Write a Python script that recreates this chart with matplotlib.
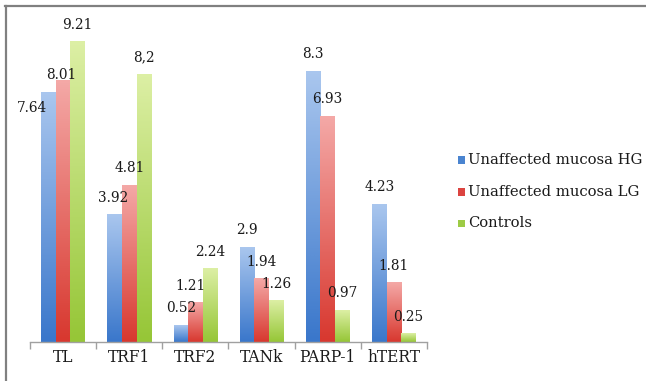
import numpy as np
import matplotlib
matplotlib.use("Agg")
import matplotlib.pyplot as plt
from matplotlib.colors import LinearSegmentedColormap
from matplotlib.lines import Line2D
from matplotlib.patches import Rectangle

categories = ["TL", "TRF1", "TRF2", "TANk", "PARP-1", "hTERT"]
series_names = ["Unaffected mucosa HG", "Unaffected mucosa LG", "Controls"]
hg_values = [7.64, 3.92, 0.52, 2.9, 8.3, 4.23]
lg_values = [8.01, 4.81, 1.21, 1.94, 6.93, 1.81]
ctrl_values = [9.21, 8.2, 2.24, 1.26, 0.97, 0.25]
hg_labels = ["7.64", "3.92", "0.52", "2.9", "8.3", "4.23"]
lg_labels = ["8.01", "4.81", "1.21", "1.94", "6.93", "1.81"]
ctrl_labels = ["9.21", "8,2", "2.24", "1.26", "0.97", "0.25"]

series = [hg_values, lg_values, ctrl_values]
labels = [hg_labels, lg_labels, ctrl_labels]

# gradient colours (bottom dark, top light)
grad = [("#3a77cb", "#a9c6ee"), ("#d8382f", "#f4a8a6"), ("#96c637", "#dcefa4")]
legend_colors = ["#4a84d0", "#dc4440", "#9dcb45"]

# label offsets in pixels (dx, dy from bar top to label centre)
default_off = (0, 17)
special_off = {(0, 0): (-17, -15), (1, 0): (-2, 6), (0, 1): (-2, 16), (1, 2): (-5, 17)}

FONT = "DejaVu Serif"
W, H = 646, 381
fig = plt.figure(figsize=(W / 100, H / 100), dpi=100)
ax = fig.add_axes([30 / W, 39 / H, 397 / W, 326 / H])

bw = 0.22
offsets = [-bw, 0, bw]
for s, (vals, labs) in enumerate(zip(series, labels)):
    cmap = LinearSegmentedColormap.from_list(f"g{s}", [grad[s][0], grad[s][1]])
    for i, (v, lab) in enumerate(zip(vals, labs)):
        xc = i + 0.5 + offsets[s]
        x0, x1 = xc - bw / 2, xc + bw / 2
        img = np.linspace(0, 1, 64).reshape(-1, 1)
        ax.imshow(img, cmap=cmap, vmin=0, vmax=1, extent=(x0, x1, 0, v),
                  origin="lower", aspect="auto", interpolation="bilinear", zorder=2)
        dx, dy = special_off.get((s, i), default_off)
        ax.annotate(lab, (xc, v), xytext=(dx, dy), textcoords="offset pixels",
                    ha="center", va="center", fontsize=9.8, family=FONT,
                    color="#1a1a1a", zorder=4)

ax.set_xlim(0, len(categories))
ax.set_ylim(0, 10)
for sp in ["top", "right", "left"]:
    ax.spines[sp].set_visible(False)
ax.spines["bottom"].set_color("#a0a0a0")
ax.spines["bottom"].set_linewidth(1.0)
ax.set_yticks([])
ax.set_xticks(np.arange(0, len(categories) + 1))
ax.set_xticklabels([])
ax.tick_params(axis="x", length=5, color="#a0a0a0", width=1.0)

for i, c in enumerate(categories):
    ax.annotate(c, (i + 0.5, 0), xytext=(0, -16), textcoords="offset pixels",
                ha="center", va="center", fontsize=11.2, family=FONT, color="#1a1a1a",
                annotation_clip=False)

# legend
rows_y = [160, 192, 223]
for name, col, yp in zip(series_names, legend_colors, rows_y):
    fig.patches.append(Rectangle((458 / W, 1 - (yp + 3.5) / H), 7 / W, 7 / H,
                                 transform=fig.transFigure, facecolor=col, edgecolor="none"))
    fig.text(468 / W, 1 - yp / H, name, ha="left", va="center", fontsize=10.6,
             family=FONT, color="#1a1a1a")

# frame lines (top and left)
fig.lines.append(Line2D([5 / W, 1], [1 - 5.5 / H, 1 - 5.5 / H], transform=fig.transFigure,
                        color="#808080", linewidth=1.6))
fig.lines.append(Line2D([5.5 / W, 5.5 / W], [0, 1 - 5.5 / H], transform=fig.transFigure,
                        color="#808080", linewidth=1.6))

fig.savefig("out.png", dpi=100, facecolor="white")
